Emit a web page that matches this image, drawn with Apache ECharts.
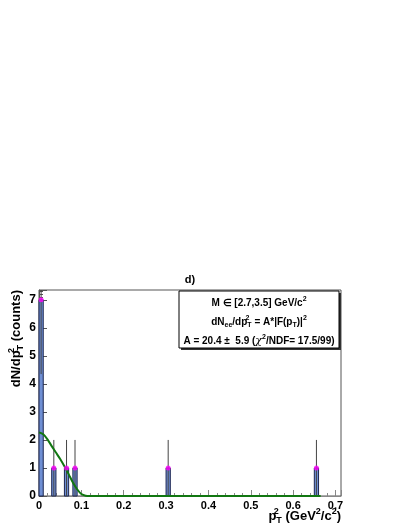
<!DOCTYPE html>
<html lang="en">
<head>
<meta charset="utf-8" />
<title>pT2 distribution</title>
<script src="https://cdn.jsdelivr.net/npm/echarts@6/dist/echarts.min.js"></script>
</head>
<body style="margin:0;background:#fff">
<div id="chart" style="width:407px;height:527px"></div>
<script>
// histogram: bin centres, counts and errors (bin width 0.01)
let binWidth = 0.01
let binCenters = [0.005, 0.035, 0.065, 0.085, 0.305, 0.655]
let binCounts = [7, 1, 1, 1, 1, 1]
let binErrors = [2.65, 1, 1, 1, 1, 1]

// fitted curve A*|F(pT)|^2
let fitX = [0, 0.01, 0.02, 0.03, 0.04, 0.05, 0.06, 0.07, 0.08, 0.09, 0.1, 0.11, 0.12, 0.2, 0.3, 0.4, 0.5, 0.6, 0.665]
let fitY = [2.27, 2.2, 2.02, 1.78, 1.55, 1.32, 1.06, 0.78, 0.48, 0.24, 0.07, 0.01, 0, 0, 0, 0, 0, 0, 0]

let FONT = 'Liberation Sans'
let chart = echarts.init(document.getElementById('chart'))

function tickFmt(v) {
    if (Math.abs(v * 10 - Math.round(v * 10)) > 1e-6) return ''
    return v === 0 ? '0' : v.toFixed(1)
}

let rich = {
    t: { fontSize: 10, fontWeight: 'bold', fontFamily: FONT, lineHeight: 14, verticalAlign: 'middle' },
    sp: { fontSize: 7, fontWeight: 'bold', fontFamily: FONT, lineHeight: 14, verticalAlign: 'top' },
    sb: { fontSize: 7, fontWeight: 'bold', fontFamily: FONT, lineHeight: 14, verticalAlign: 'bottom' },
    sp0: { fontSize: 7, fontWeight: 'bold', fontFamily: FONT, lineHeight: 14, verticalAlign: 'top', width: 0.01, align: 'left' },
    chi: { fontSize: 11, fontFamily: 'DejaVu Serif', fontStyle: 'italic', lineHeight: 14, verticalAlign: 'middle' }
}
let richBig = {
    t: { fontSize: 13, fontWeight: 'bold', fontFamily: FONT, lineHeight: 18, verticalAlign: 'middle' },
    sp: { fontSize: 9, fontWeight: 'bold', fontFamily: FONT, lineHeight: 18, verticalAlign: 'top' },
    sb: { fontSize: 9, fontWeight: 'bold', fontFamily: FONT, lineHeight: 18, verticalAlign: 'bottom' },
    sp0: { fontSize: 9, fontWeight: 'bold', fontFamily: FONT, lineHeight: 18, verticalAlign: 'top', width: 0.01, align: 'left' }
}

let option = {
    animation: false,
    grid: { left: 39, right: 66, top: 290, bottom: 31, show: true, borderColor: '#555', borderWidth: 1 },
    xAxis: {
        type: 'value', min: 0, max: 0.713, interval: 0.1,
        axisLine: { lineStyle: { color: '#888' } },
        axisTick: { inside: true, length: 6, lineStyle: { color: '#888' } },
        minorTick: { show: true, splitNumber: 5, length: 3, lineStyle: { color: '#888' } },
        splitLine: { show: false },
        axisLabel: { formatter: tickFmt, color: '#000', fontFamily: FONT, fontWeight: 'bold', fontSize: 11, margin: 4 }
    },
    yAxis: {
        type: 'value', min: 0, max: 7.35, interval: 1,
        axisLine: { show: true, lineStyle: { color: '#555' } },
        axisTick: { inside: true, length: 8, lineStyle: { color: '#555' } },
        minorTick: { show: true, splitNumber: 10, length: 4, lineStyle: { color: '#555' } },
        splitLine: { show: false },
        axisLabel: { formatter: v => (Math.abs(v - Math.round(v)) > 1e-6 ? '' : String(v)), color: '#000', fontFamily: FONT, fontWeight: 'bold', fontSize: 12, margin: 3 }
    },
    series: [
        {
            type: 'custom', z: 2,
            data: binCenters.map((c, i) => [c, binCounts[i]]),
            renderItem: (params, api) => {
                let c = api.value(0)
                let p0 = api.coord([c - binWidth / 2, api.value(1)])
                let p1 = api.coord([c + binWidth / 2, 0])
                return {
                    type: 'rect',
                    shape: { x: p0[0], y: p0[1], width: p1[0] - p0[0], height: p1[1] - p0[1] },
                    style: { fill: '#6f8fd3', stroke: '#1b2550', lineWidth: 1 }
                }
            }
        },
        {
            type: 'custom', z: 3, clip: true,
            data: binCenters.map((c, i) => [c, binCounts[i], binErrors[i]]),
            renderItem: (params, api) => {
                let c = api.value(0)
                let lo = api.coord([c, api.value(1) - api.value(2)])
                let hi = api.coord([c, api.value(1) + api.value(2)])
                return {
                    type: 'line',
                    shape: { x1: lo[0], y1: lo[1], x2: hi[0], y2: hi[1] },
                    style: { stroke: '#444', lineWidth: 1 }
                }
            }
        },
        {
            type: 'line', z: 4, smooth: 0.3, showSymbol: false,
            data: fitX.map((x, i) => [x, fitY[i]]),
            lineStyle: { color: '#117711', width: 2 }
        },
        {
            type: 'scatter', z: 5, symbol: 'circle', symbolSize: 5,
            data: binCenters.map((c, i) => [c, binCounts[i]]),
            itemStyle: { color: '#ff00ff' }
        }
    ],
    graphic: [
        {
            type: 'text', x: 190, y: 280,
            style: { text: 'd)', font: 'bold 11px "Liberation Sans"', fill: '#000', align: 'center', verticalAlign: 'middle', textAlign: 'center', textVerticalAlign: 'middle' }
        },
        { type: 'rect', shape: { x: 181, y: 293, width: 160, height: 57 }, style: { fill: '#333' }, z: 10 },
        { type: 'rect', shape: { x: 179, y: 291, width: 160, height: 57 }, style: { fill: '#fff', stroke: '#000', lineWidth: 1 }, z: 11 },
        {
            type: 'text', x: 259, y: 303, z: 12,
            style: { text: '{t|M ∈ [2.7,3.5] GeV/c}{sp|2}', rich: rich, fill: '#000', align: 'center', verticalAlign: 'middle', textAlign: 'center', textVerticalAlign: 'middle' }
        },
        {
            type: 'text', x: 259, y: 322, z: 12,
            style: { text: '{t|dN}{sb|ee}{t|/dp}{sp0|2}{sb|T}{t| = A*|F(p}{sb|T}{t|)|}{sp|2}', rich: rich, fill: '#000', align: 'center', verticalAlign: 'middle', textAlign: 'center', textVerticalAlign: 'middle' }
        },
        {
            type: 'text', x: 259, y: 341, z: 12,
            style: { text: '{t|A = 20.4 ±  5.9 (}{chi|χ}{sp|2}{t|/NDF= 17.5/99)}', rich: rich, fill: '#000', align: 'center', verticalAlign: 'middle', textAlign: 'center', textVerticalAlign: 'middle' }
        },
        {
            type: 'text', x: 16, y: 290, rotation: Math.PI / 2,
            style: { text: '{t|dN/dp}{sp0|2}{sb|T}{t| (counts)}', rich: richBig, fill: '#000', align: 'right', verticalAlign: 'middle', textAlign: 'right', textVerticalAlign: 'middle' }
        },
        {
            type: 'text', x: 341, y: 516,
            style: { text: '{t|p}{sp0|2}{sb|T}{t| (GeV}{sp|2}{t|/c}{sp|2}{t|)}', rich: richBig, fill: '#000', align: 'right', verticalAlign: 'middle', textAlign: 'right', textVerticalAlign: 'middle' }
        }
    ]
}
chart.setOption(option)
</script>
</body>
</html>
